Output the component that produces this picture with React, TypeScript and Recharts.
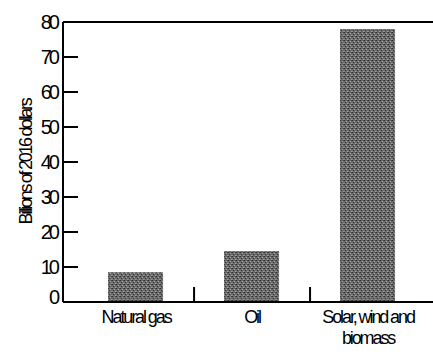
import { BarChart, Bar, XAxis, YAxis, ReferenceLine } from 'recharts';

// Category positions on the numeric x axis, names and values (billions of 2016 dollars)
const categoryPos = [1, 2, 3];
const categoryLines = [['Natural gas'], ['Oil'], ['Solar, wind and', 'biomass']];
const values = [8.5, 14.6, 78];
const dividerPos = [1.5, 2.5];
const yTicks = [0, 10, 20, 30, 40, 50, 60, 70, 80];

const data = categoryPos.map((x, i) => ({ x, value: values[i] }));
const xTicks = [...categoryPos, ...dividerPos].sort((a, b) => a - b);

const FONT = '"Liberation Sans", Arial, sans-serif';

function YTick({ x, y, payload }: any) {
  const v = payload.value;
  return (
    <g>
      {v !== 0 && <line x1={x} x2={x + 15} y1={y} y2={y} stroke="#000" strokeWidth={2} />}
      <text
        x={x - 6}
        y={v === 0 ? y - 5 : y}
        textAnchor="end"
        dominantBaseline="central"
        fontFamily={FONT}
        fontSize={20}
        letterSpacing={-3}
        fill="#000"
      >
        {v}
      </text>
    </g>
  );
}

function XTick({ x, y, payload }: any) {
  const v = payload.value;
  const idx = categoryPos.indexOf(v);
  if (idx < 0) {
    return <line x1={x} x2={x} y1={y} y2={y - 15} stroke="#000" strokeWidth={2} />;
  }
  return (
    <text textAnchor="middle" fontFamily={FONT} fontSize={18} letterSpacing={-2.1} fill="#000">
      {categoryLines[idx].map((line, i) => (
        <tspan key={i} x={x} y={y + 21 + i * 21}>{line}</tspan>
      ))}
    </text>
  );
}

export default function App() {
  return (
    <div style={{ position: 'absolute', left: 0, top: 0, width: 433, height: 360, background: '#fff' }}>
      <BarChart width={433} height={360} data={data} margin={{ top: 22, right: 0, left: 8, bottom: 18 }}>
        <defs>
          <pattern id="dither" width="4" height="4" patternUnits="userSpaceOnUse">
            <rect width="4" height="4" fill="#6a6a6a" />
            <rect x="0" y="0" width="1" height="1" fill="#2e2e2e" />
            <rect x="2" y="1" width="1" height="1" fill="#a0a0a0" />
            <rect x="1" y="2" width="1" height="1" fill="#383838" />
            <rect x="3" y="3" width="1" height="1" fill="#989898" />
            <rect x="3" y="0" width="1" height="1" fill="#444" />
            <rect x="0" y="3" width="1" height="1" fill="#8a8a8a" />
          </pattern>
        </defs>
        <XAxis
          dataKey="x"
          type="number"
          domain={[0.37, 3.56]}
          allowDataOverflow
          ticks={xTicks}
          interval={0}
          tick={<XTick />}
          tickLine={false}
          tickSize={0}
          tickMargin={0}
          height={40}
          axisLine={{ stroke: '#000', strokeWidth: 2 }}
        />
        <YAxis
          domain={[0, 80]}
          ticks={yTicks}
          interval={0}
          width={55}
          tick={<YTick />}
          tickLine={false}
          tickSize={0}
          tickMargin={0}
          axisLine={{ stroke: '#000', strokeWidth: 2 }}
          label={{
            value: 'Billions of 2016 dollars',
            angle: -90,
            position: 'insideLeft',
            offset: 18,
            style: { fontFamily: FONT, fontSize: 18, letterSpacing: -2.3, fill: '#000', textAnchor: 'middle' },
          }}
        />
        <ReferenceLine y={80} stroke="#000" strokeWidth={2} />
        <Bar dataKey="value" fill="url(#dither)" barSize={55} isAnimationActive={false} />
      </BarChart>
    </div>
  );
}
